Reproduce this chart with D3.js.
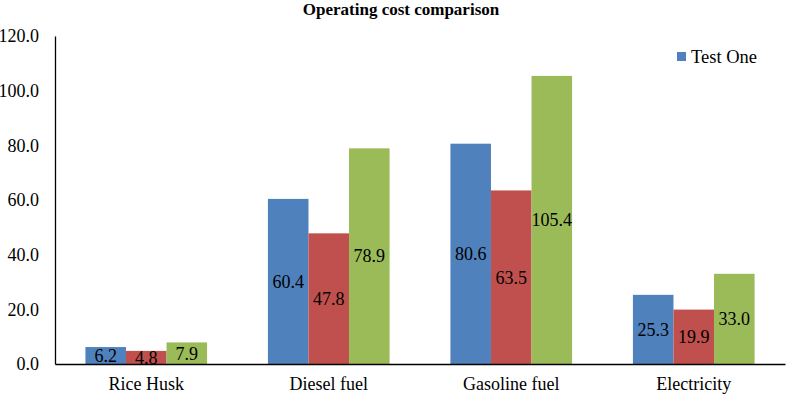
<!DOCTYPE html>
<html>
<head>
<meta charset="utf-8">
<script src="https://cdn.jsdelivr.net/npm/d3@7"></script>
<style>
  body { margin: 0; background: #fff; }
  svg text { font-family: "Liberation Serif", "Times New Roman", serif; }
</style>
</head>
<body>
<script>
// data
var categories = ["Rice Husk", "Diesel fuel", "Gasoline fuel", "Electricity"];
var seriesNames = ["Test One", "Test Two", "Test Three"];
var testOne = [6.2, 60.4, 80.6, 25.3];
var testTwo = [4.8, 47.8, 63.5, 19.9];
var testThree = [7.9, 78.9, 105.4, 33.0];
var yTicks = [0, 20, 40, 60, 80, 100, 120];
var colors = ["#4F81BD", "#C0504D", "#9BBB59"];

var width = 787, height = 397;
var margin = {top: 36, right: 2, bottom: 33, left: 55};

var svg = d3.select("body").append("svg")
    .attr("width", width)
    .attr("height", height);

var rows = categories.map(function(c, i) {
  return {cat: c, values: [testOne[i], testTwo[i], testThree[i]]};
});

var x0 = d3.scaleBand()
    .domain(categories)
    .range([margin.left, width - margin.right])
    .padding(0);

var x1 = d3.scaleBand()
    .domain(d3.range(seriesNames.length))
    .range([0, x0.bandwidth()])
    .paddingInner(0)
    .paddingOuter(0.75);

var y = d3.scaleLinear()
    .domain([0, 120])
    .range([height - margin.bottom, margin.top]);

// title
svg.append("text")
    .attr("x", 401)
    .attr("y", 15)
    .attr("text-anchor", "middle")
    .style("font-weight", "bold")
    .style("font-size", "17px")
    .text("Operating cost comparison");

// y axis
var yAxis = svg.append("g")
    .attr("transform", "translate(" + margin.left + ",0)")
    .call(d3.axisLeft(y).tickValues(yTicks).tickFormat(d3.format(".1f")).tickSize(0).tickPadding(16));
yAxis.attr("font-family", null);
yAxis.select(".domain").attr("stroke", "#000").attr("stroke-width", 1.3);
yAxis.selectAll("text").style("font-size", "18px").attr("fill", "#000");

// bars
var groups = svg.selectAll(".grp")
    .data(rows)
  .enter().append("g")
    .attr("transform", function(d) { return "translate(" + x0(d.cat) + ",0)"; });

groups.selectAll("rect")
    .data(function(d) { return d.values; })
  .enter().append("rect")
    .attr("x", function(d, i) { return x1(i); })
    .attr("y", function(d) { return y(d); })
    .attr("width", x1.bandwidth())
    .attr("height", function(d) { return y(0) - y(d); })
    .style("fill", function(d, i) { return colors[i]; });

groups.selectAll(".lbl")
    .data(function(d) { return d.values; })
  .enter().append("text")
    .attr("x", function(d, i) { return x1(i) + x1.bandwidth() / 2; })
    .attr("y", function(d) { return (y(d) + y(0)) / 2; })
    .attr("dy", "0.35em")
    .attr("text-anchor", "middle")
    .style("font-size", "18px")
    .text(function(d) { return d.toFixed(1); });

// x axis
var xAxis = svg.append("g")
    .attr("transform", "translate(0," + y(0) + ")")
    .call(d3.axisBottom(x0).tickSize(0).tickPadding(13));
xAxis.attr("font-family", null);
xAxis.select(".domain").attr("stroke", "#000").attr("stroke-width", 1.3);
xAxis.selectAll("text").style("font-size", "18px").attr("fill", "#000");

// legend (only first series shown)
var legend = svg.append("g").attr("transform", "translate(677,52)");
legend.append("rect")
    .attr("width", 9)
    .attr("height", 9)
    .style("fill", colors[0]);
legend.append("text")
    .attr("x", 14)
    .attr("y", 5)
    .attr("dy", "0.35em")
    .style("font-size", "18.5px")
    .text(seriesNames[0]);
</script>
</body>
</html>
